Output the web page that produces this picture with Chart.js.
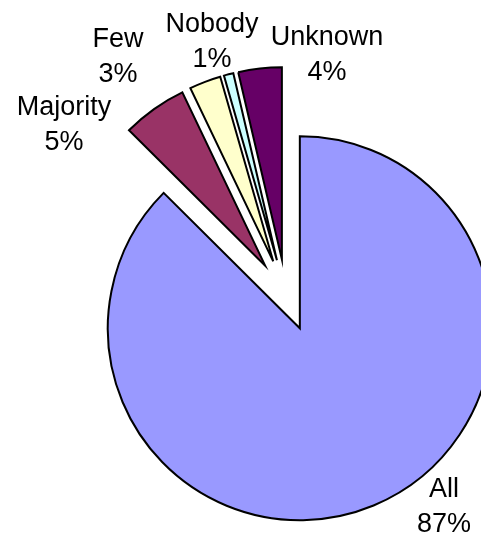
<!DOCTYPE html>
<html>
<head>
<meta charset="utf-8">
<script src="https://cdn.jsdelivr.net/npm/chart.js@4/dist/chart.umd.min.js"></script>
<style>
  body { margin: 0; background: #fff; }
</style>
</head>
<body>
<canvas id="myChart" width="481" height="533"></canvas>
<script>
  const categories = ['All', 'Majority', 'Few', 'Nobody', 'Unknown'];
  const shares = [87.45, 5.45, 2.65, 0.8, 3.65];
  const sliceColors = ['#9999FF', '#993366', '#FFFFCC', '#CCFFFF', '#660066'];

  // label anchor (first line baseline) relative to the pie centre
  const labelOffsets = [[158, 202], [-222, -180], [-168, -248], [-74, -263], [41, -250]];
  const RADIUS = 192;
  const EXPLODE = 36;   // every slice is pulled out by this much

  const total = shares.reduce((a, b) => a + b, 0);

  // draw each arc ourselves, moved out along its middle angle
  const explodeSlices = {
    id: 'explodeSlices',
    beforeDatasetDraw(chart, args) {
      const ctx = chart.ctx;
      args.meta.data.forEach(arc => {
        const half = (arc.startAngle + arc.endAngle) / 2;
        ctx.save();
        ctx.translate(Math.cos(half) * EXPLODE, Math.sin(half) * EXPLODE);
        arc.draw(ctx);
        ctx.restore();
      });
      return false;
    }
  };

  const labelPlugin = {
    id: 'sliceLabels',
    afterDraw(chart) {
      const ctx = chart.ctx;
      const arcs = chart.getDatasetMeta(0).data;
      const cx = arcs[0].x, cy = arcs[0].y;
      ctx.save();
      ctx.font = '27px "Liberation Sans", Arial, sans-serif';
      ctx.fillStyle = '#000';
      ctx.textAlign = 'center';
      ctx.textBaseline = 'alphabetic';
      categories.forEach((name, i) => {
        const x = cx + labelOffsets[i][0];
        const y = cy + labelOffsets[i][1];
        const pct = Math.round(shares[i] / total * 100) + '%';
        ctx.fillText(name, x, y);
        ctx.fillText(pct, x, y + 35);
      });
      ctx.restore();
    }
  };

  const ctx = document.getElementById('myChart').getContext('2d');
  const myChart = new Chart(ctx, {
    type: 'pie',
    data: {
      labels: categories,
      datasets: [
        {
          data: shares,
          backgroundColor: sliceColors,
          borderColor: '#000',
          borderWidth: 2,
          borderJoinStyle: 'miter'
        }
      ]
    },
    options: {
      responsive: false,
      animation: false,
      events: [],
      radius: RADIUS,
      layout: { padding: { left: 91, right: 0, top: 57, bottom: 0 } },
      plugins: {
        legend: { display: false },
        tooltip: { enabled: false }
      }
    },
    plugins: [explodeSlices, labelPlugin]
  });
</script>
</body>
</html>
